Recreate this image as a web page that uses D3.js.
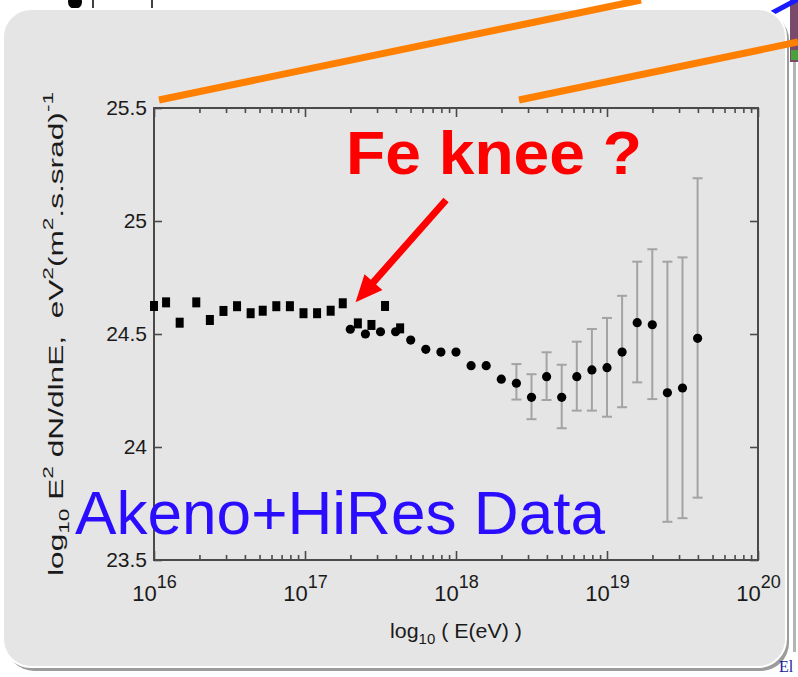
<!DOCTYPE html>
<html>
<head>
<meta charset="utf-8">
<script src="https://cdn.jsdelivr.net/npm/d3@7"></script>
<style>
  body { margin: 0; background: #ffffff; }
  svg text { font-family: "Liberation Sans", Arial, Helvetica, sans-serif; white-space: pre; }
</style>
</head>
<body>
<svg id="chart" width="798" height="677"></svg>
<script>
// Akeno (squares), log10 of energy and log10 E^2 dN/dlnE
var akenoLogE = [16.0, 16.08, 16.17, 16.28, 16.37, 16.46, 16.55, 16.64, 16.72, 16.81,
                 16.9, 16.99, 17.08, 17.17, 17.25, 17.35, 17.44, 17.53, 17.63];
var akenoFlux = [24.624, 24.640, 24.550, 24.640, 24.562, 24.602, 24.623, 24.592, 24.603, 24.623,
                 24.623, 24.592, 24.592, 24.603, 24.636, 24.547, 24.540, 24.624, 24.525];

// HiRes (circles)
var hiresLogE = [17.3, 17.4, 17.5, 17.6, 17.7, 17.8, 17.9, 18.0, 18.1, 18.2, 18.3, 18.4,
                 18.5, 18.6, 18.7, 18.8, 18.9, 19.0, 19.1, 19.2, 19.3, 19.4, 19.5, 19.6];
var hiresFlux = [24.521, 24.500, 24.510, 24.510, 24.473, 24.432, 24.420, 24.420, 24.360, 24.360, 24.300, 24.282,
                 24.220, 24.311, 24.220, 24.311, 24.341, 24.351, 24.420, 24.550, 24.541, 24.240, 24.261, 24.481];

// error bars on the high energy HiRes points
var errLogE = [18.4, 18.5, 18.6, 18.7, 18.8, 18.9, 19.0, 19.1, 19.2, 19.3, 19.4, 19.5, 19.6];
var errHi = [24.367, 24.322, 24.419, 24.364, 24.466, 24.522, 24.571, 24.669, 24.820, 24.875, 24.820, 24.839, 25.189];
var errLo = [24.210, 24.123, 24.208, 24.083, 24.161, 24.161, 24.134, 24.176, 24.286, 24.212, 23.669, 23.685, 23.776];

var yTicks = [23.5, 24, 24.5, 25, 25.5];
var xDecades = [16, 17, 18, 19, 20];

var svg = d3.select('#chart');

var x = d3.scaleLog().domain([1e16, 1e20]).range([154, 758]);
var y = d3.scaleLinear().domain([23.5, 25.5]).range([560, 108]);
var ex = function(e) { return x(Math.pow(10, e)); };

var decadeVals = xDecades.map(function(e) { return Math.pow(10, e); });
var minorVals = x.ticks().filter(function(v) {
    var l = Math.log10(v);
    return Math.abs(l - Math.round(l)) > 1e-6;
});

// bits of the slide behind the panel
svg.append('circle').attr('cx', 75).attr('cy', 2).attr('r', 7).style('fill', '#000');
svg.append('line').attr('x1', 93).attr('y1', 0).attr('x2', 93).attr('y2', 9)
    .style('stroke', '#000').style('stroke-width', 1.5);
svg.append('line').attr('x1', 152).attr('y1', 0).attr('x2', 152).attr('y2', 9)
    .style('stroke', '#000').style('stroke-width', 1.5);
svg.append('rect').attr('x', 790).attr('y', 0).attr('width', 8).attr('height', 62)
    .style('fill', '#7a4a6a');
svg.append('rect').attr('x', 791).attr('y', 50).attr('width', 7).attr('height', 10)
    .style('fill', '#4aa03a');
svg.append('line').attr('x1', 772).attr('y1', 13).attr('x2', 800).attr('y2', -2)
    .style('stroke', '#1a1aff').style('stroke-width', 5);
svg.append('rect').attr('x', 793).attr('y', 62).attr('width', 3).attr('height', 590)
    .style('fill', '#b4b4b4');

// the gray panel with its shadow
svg.append('rect').attr('x', 6).attr('y', 12).attr('width', 783).attr('height', 659)
    .attr('rx', 28).style('fill', '#9c9c9c');
svg.append('rect').attr('x', 3).attr('y', 9).attr('width', 783).attr('height', 658)
    .attr('rx', 28).style('fill', '#e5e5e5').style('stroke', '#ffffff').style('stroke-width', 2);

svg.append('text').attr('x', 779).attr('y', 672).text('El')
    .style('font-family', '"Liberation Serif", serif').style('font-size', '16px').style('fill', '#1a1aa0');

// orange zoom connectors
var connectors = [[[159, 100], [641, 0]], [[519, 100], [798, 42]]];
svg.selectAll('.connector').data(connectors).enter().append('line')
    .attr('x1', function(d) { return d[0][0]; }).attr('y1', function(d) { return d[0][1]; })
    .attr('x2', function(d) { return d[1][0]; }).attr('y2', function(d) { return d[1][1]; })
    .style('stroke', '#ff7f00').style('stroke-width', 7);

// axes
var tickStyle = function(g) {
    g.select('.domain').remove();
    g.selectAll('.tick line').style('stroke', '#4a4a4a').style('stroke-width', 1.6);
    g.selectAll('.tick text').style('fill', '#1a1a1a').style('font-family', '"Liberation Sans", Arial, sans-serif');
};

var gBottom = svg.append('g').attr('transform', 'translate(0,560)')
    .call(d3.axisBottom(x).tickValues(decadeVals).tickSize(-9).tickPadding(25));
tickStyle(gBottom);
gBottom.selectAll('.tick text').text(null).style('font-size', '22px').each(function(d) {
    var t = d3.select(this);
    t.append('tspan').text('10');
    t.append('tspan').attr('dy', -13).style('font-size', '18px').text(Math.round(Math.log10(d)));
});
var gBottomMinor = svg.append('g').attr('transform', 'translate(0,560)')
    .call(d3.axisBottom(x).tickValues(minorVals).tickSize(-5).tickFormat(''));
tickStyle(gBottomMinor);

var gTop = svg.append('g').attr('transform', 'translate(0,108)')
    .call(d3.axisTop(x).tickValues(decadeVals).tickSize(-9).tickFormat(''));
tickStyle(gTop);
var gTopMinor = svg.append('g').attr('transform', 'translate(0,108)')
    .call(d3.axisTop(x).tickValues(minorVals).tickSize(-5).tickFormat(''));
tickStyle(gTopMinor);

var gLeft = svg.append('g').attr('transform', 'translate(154,0)')
    .call(d3.axisLeft(y).tickValues(yTicks).tickSize(-8).tickPadding(7).tickFormat(d3.format('')));
tickStyle(gLeft);
gLeft.selectAll('.tick text').style('font-size', '21px');

var gRight = svg.append('g').attr('transform', 'translate(758,0)')
    .call(d3.axisRight(y).tickValues(yTicks).tickSize(-8).tickFormat(''));
tickStyle(gRight);

svg.append('rect').attr('x', 154).attr('y', 108).attr('width', 604).attr('height', 452)
    .style('fill', 'none').style('stroke', '#4a4a4a').style('stroke-width', 2);

// axis titles
var yTitle = svg.append('text')
    .attr('transform', 'translate(63,334) rotate(-90)')
    .attr('text-anchor', 'middle')
    .attr('textLength', 484).attr('lengthAdjust', 'spacingAndGlyphs')
    .style('font-size', '21px').style('fill', '#1a1a1a');
yTitle.append('tspan').text('log');
yTitle.append('tspan').attr('dy', 6).style('font-size', '15px').text('10');
yTitle.append('tspan').attr('dy', -6).text(' E');
yTitle.append('tspan').attr('dy', -10).style('font-size', '15px').text('2');
yTitle.append('tspan').attr('dy', 10).text(' dN/dlnE,  eV');
yTitle.append('tspan').attr('dy', -10).style('font-size', '15px').text('2');
yTitle.append('tspan').attr('dy', 10).text('(m');
yTitle.append('tspan').attr('dy', -10).style('font-size', '15px').text('2');
yTitle.append('tspan').attr('dy', 10).text('.s.srad)');
yTitle.append('tspan').attr('dy', -10).style('font-size', '15px').text('-1');

var xTitle = svg.append('text')
    .attr('x', 456).attr('y', 638)
    .attr('text-anchor', 'middle')
    .attr('textLength', 132).attr('lengthAdjust', 'spacingAndGlyphs')
    .style('font-size', '20px').style('fill', '#1a1a1a');
xTitle.append('tspan').text('log');
xTitle.append('tspan').attr('dy', 6).style('font-size', '14px').text('10');
xTitle.append('tspan').attr('dy', -6).text(' ( E(eV) )');

// error bars
var errData = errLogE.map(function(e, i) { return {e: e, hi: errHi[i], lo: errLo[i]}; });
var gErr = svg.append('g').style('stroke', '#a3a3a3').style('stroke-width', 2);
gErr.selectAll('.err').data(errData).enter().append('line')
    .attr('x1', function(d) { return ex(d.e); }).attr('x2', function(d) { return ex(d.e); })
    .attr('y1', function(d) { return y(d.hi); }).attr('y2', function(d) { return y(d.lo); });
gErr.selectAll('.capHi').data(errData).enter().append('line')
    .attr('x1', function(d) { return ex(d.e) - 5; }).attr('x2', function(d) { return ex(d.e) + 5; })
    .attr('y1', function(d) { return y(d.hi); }).attr('y2', function(d) { return y(d.hi); });
gErr.selectAll('.capLo').data(errData).enter().append('line')
    .attr('x1', function(d) { return ex(d.e) - 5; }).attr('x2', function(d) { return ex(d.e) + 5; })
    .attr('y1', function(d) { return y(d.lo); }).attr('y2', function(d) { return y(d.lo); });

// markers
svg.selectAll('.hires').data(hiresLogE).enter().append('circle')
    .attr('cx', function(d) { return ex(d); })
    .attr('cy', function(d, i) { return y(hiresFlux[i]); })
    .attr('r', 4.6).style('fill', '#000');
svg.selectAll('.akeno').data(akenoLogE).enter().append('rect')
    .attr('x', function(d) { return ex(d) - 4; })
    .attr('y', function(d, i) { return y(akenoFlux[i]) - 5; })
    .attr('width', 8).attr('height', 10).style('fill', '#000');

// annotations
svg.append('text').attr('x', 346).attr('y', 174)
    .attr('textLength', 296).attr('lengthAdjust', 'spacingAndGlyphs')
    .style('font-size', '61px').style('font-weight', 'bold').style('fill', '#ff0000')
    .text('Fe knee ?');

var tail = [ex(17.934), y(25.093)];
var tip = [ex(17.335), y(24.64)];
var dx = tip[0] - tail[0], dy = tip[1] - tail[1];
var len = Math.sqrt(dx * dx + dy * dy);
var ux = dx / len, uy = dy / len;
var headLen = 27, headHalf = 12, shaftHalf = 3.5;
var bx = tip[0] - ux * headLen, by = tip[1] - uy * headLen;
var arrowPts = [
    [tail[0] - uy * shaftHalf, tail[1] + ux * shaftHalf],
    [bx - uy * shaftHalf, by + ux * shaftHalf],
    [bx - uy * headHalf, by + ux * headHalf],
    tip,
    [bx + uy * headHalf, by - ux * headHalf],
    [bx + uy * shaftHalf, by - ux * shaftHalf],
    [tail[0] + uy * shaftHalf, tail[1] - ux * shaftHalf]
];
svg.append('path').attr('d', d3.line()(arrowPts) + 'Z').style('fill', '#ff0000');

svg.append('text').attr('x', 75).attr('y', 534)
    .attr('textLength', 530).attr('lengthAdjust', 'spacingAndGlyphs')
    .style('font-size', '62px').style('fill', '#2a0cff')
    .text('Akeno+HiRes Data');
</script>
</body>
</html>
